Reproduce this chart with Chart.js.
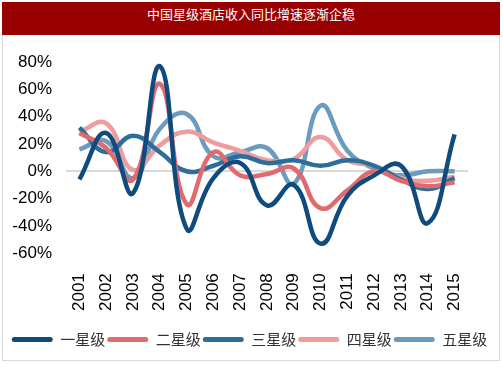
<!DOCTYPE html>
<html>
<head>
<meta charset="utf-8">
<script src="https://cdn.jsdelivr.net/npm/chart.js@4"></script>
<style>
  html, body { margin: 0; padding: 0; background: #fff; }
  #wrap { position: relative; width: 503px; height: 378px; }
  #frame { position: absolute; left: 2px; top: 2px; width: 496px; height: 357px; border: 1px solid #d9d9d9; }
  #bar { position: absolute; left: 2px; top: 2px; width: 498px; height: 33px; background: #990000;
         color: #fff; font: 13px "Noto Sans CJK SC", sans-serif; text-align: center; line-height: 24px; }
  canvas { position: absolute; left: 0; top: 0; }
</style>
</head>
<body>
<div id="wrap">
  <div id="frame"></div>
  <div id="bar">中国星级酒店收入同比增速逐渐企稳</div>
  <canvas id="canHotel" width="503" height="378"></canvas>
</div>
<script>
const years = ['2001', '2002', '2003', '2004', '2005', '2006', '2007', '2008',
  '2009', '2010', '2011', '2012', '2013', '2014', '2015']
const star1 = [-6, 28, -16, 77, -42, -5, 6, -25, -10, -53, -18, -3, 4, -38, 27]
const star2 = [28, 17, -6, 64, -24, 14, -3, -2, 2, -27, -14, 0, -7, -11, -8]
const star3 = [32, 14, 26, 14, 0, 4, 11, 6, 8, 4, 8, 4, -6, -13, -5]
const star4 = [29, 35, 1, 19, 29, 21, 15, 8, 9, 25, 8, 4, -5, -7, -4]
const star5 = [16, 22, -5, 31, 42, 11, 14, 17, -9, 48, 15, 2, -3, 0, 0]
const yTicks = [-60, -40, -20, 0, 20, 40, 60, 80]

const cHotel = document.getElementById('canHotel')

function line (label, data, color) {
  return {
    label: label,
    data: data,
    borderColor: color,
    backgroundColor: color,
    borderWidth: 4.5,
    pointRadius: 0,
    tension: 0.45,
    fill: false
  }
}

new Chart(cHotel, {
  type: 'line',
  data: {
    labels: years,
    datasets: [
      line('一星级', star1, '#0f4c7d'),
      line('二星级', star2, '#e06a6e'),
      line('三星级', star3, '#2b6e9a'),
      line('四星级', star4, '#ee9c9e'),
      line('五星级', star5, '#6b9bbf')
    ]
  },
  options: {
    responsive: false,
    animation: false,
    layout: { padding: { left: 0, right: 4, top: 62, bottom: 21 } },
    plugins: {
      title: { display: false },
      tooltip: { enabled: false },
      legend: {
        position: 'bottom',
        labels: {
          boxWidth: 41,
          boxHeight: 5,
          padding: 2,
          color: '#333',
          font: { family: '"Noto Sans CJK SC", sans-serif', size: 15 },
          generateLabels: function (chart) {
            const items = Chart.defaults.plugins.legend.labels.generateLabels(chart)
            items.forEach(function (it) {
              it.lineWidth = 0
              it.borderRadius = 2.5
            })
            return items
          }
        }
      }
    },
    scales: {
      x: {
        offset: true,
        afterFit: function (scale) { scale.height += 7 },
        grid: { display: false },
        border: { display: false },
        ticks: {
          minRotation: 90,
          maxRotation: 90,
          padding: 12,
          color: '#000',
          font: { family: '"Liberation Sans", Arial, sans-serif', size: 17 }
        }
      },
      y: {
        min: -60,
        max: 80,
        afterBuildTicks: function (scale) {
          scale.ticks = yTicks.map(function (v) { return { value: v } })
        },
        afterFit: function (scale) { scale.width = 66 },
        grid: {
          drawTicks: false,
          color: function (ctx) { return ctx.tick && ctx.tick.value === 0 ? '#d9d9d9' : 'rgba(0,0,0,0)' },
          lineWidth: 2
        },
        border: { display: false },
        ticks: {
          padding: 14,
          color: '#000',
          font: { family: '"Liberation Sans", Arial, sans-serif', size: 17 },
          callback: function (v) { return v + '%' }
        }
      },
      yRight: {
        position: 'right',
        display: true,
        min: -60,
        max: 80,
        afterFit: function (scale) { scale.width = 31 },
        grid: { display: false },
        border: { display: false },
        ticks: { display: false }
      }
    }
  }
})
</script>
</body>
</html>
